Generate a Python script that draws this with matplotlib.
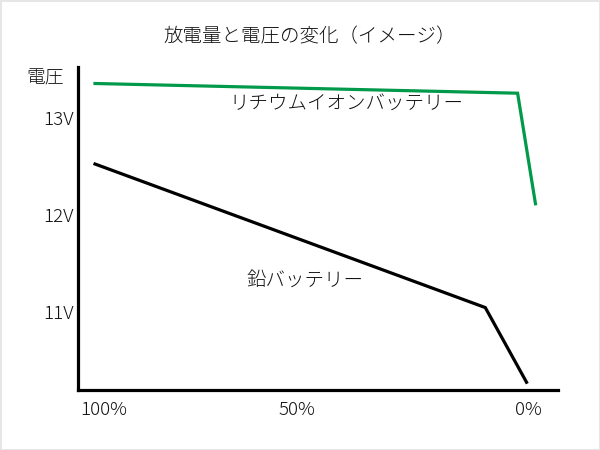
import matplotlib
matplotlib.use("Agg")
import matplotlib.pyplot as plt

plt.rcParams['font.family'] = ['Noto Sans CJK JP', 'DejaVu Sans']

title = "放電量と電圧の変化（イメージ）"
ylabel = "電圧"

# remaining charge (%) -> voltage (V)
li_x = [102.0, 2.6, -1.6]
li_v = [13.36, 13.26, 12.12]
li_label = "リチウムイオンバッテリー"

pb_x = [102.0, 10.2, 0.5]
pb_v = [12.53, 11.05, 10.28]
pb_label = "鉛バッテリー"

xtick_pos = [100, 54.6, 0]
xtick_labels = ["100%", "50%", "0%"]
ytick_pos = [13, 12, 11]
ytick_labels = ["13V", "12V", "11V"]

TXT = '#111111'

fig = plt.figure(figsize=(6, 4.5), dpi=100, edgecolor='#e6e6e6', linewidth=2)
ax = fig.add_axes([0.13, 0.1333, 0.80, 0.7178])

ax.plot(li_x, li_v, color='#009a4a', lw=2.3, solid_joinstyle='miter')
ax.plot(pb_x, pb_v, color='black', lw=2.3, solid_joinstyle='miter')

ax.set_xlim(106.0, -6.9)
ax.set_ylim(10.20, 13.53)

for s in ['top', 'right']:
    ax.spines[s].set_visible(False)
for s in ['left', 'bottom']:
    ax.spines[s].set_linewidth(2.3)

ax.set_xticks(xtick_pos)
ax.set_xticklabels(xtick_labels, fontweight='light')
ax.set_yticks(ytick_pos)
ax.set_yticklabels(ytick_labels, fontweight='light')
ax.tick_params(axis='both', length=0, labelsize=13.5, colors=TXT)
ax.tick_params(axis='x', pad=8)
ax.tick_params(axis='y', pad=3)

ax.text(45 / 600, 1 - 78 / 450, ylabel, transform=fig.transFigure,
        ha='center', va='center', fontsize=13.5, color=TXT, fontweight='light')
fig.text(310 / 600, 1 - 37 / 450, title, ha='center', va='center',
         fontsize=14, color=TXT, fontweight='light')

ax.text(346 / 600, 1 - 103 / 450, li_label, transform=fig.transFigure,
        ha='center', va='center', fontsize=14, color=TXT, fontweight='light')
ax.text(305 / 600, 1 - 280 / 450, pb_label, transform=fig.transFigure,
        ha='center', va='center', fontsize=14, color=TXT, fontweight='light')

fig.savefig("out.png", dpi=100, edgecolor=fig.get_edgecolor())
